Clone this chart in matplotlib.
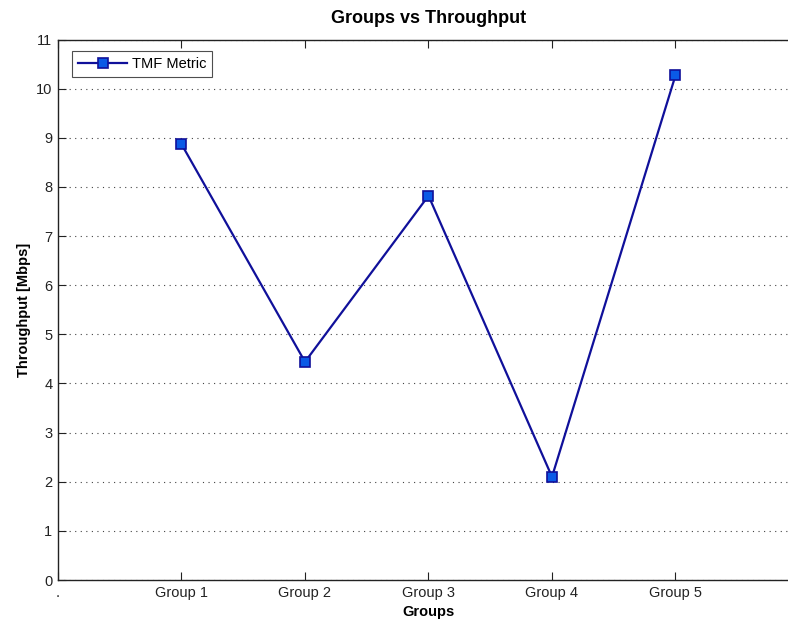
import matplotlib
matplotlib.use("Agg")
import matplotlib.pyplot as plt

plt.rcParams['font.family'] = ['Liberation Sans', 'DejaVu Sans']

categories = ['Group 1', 'Group 2', 'Group 3', 'Group 4', 'Group 5']
x_pos = [1, 2, 3, 4, 5]
throughput = [8.87, 4.44, 7.82, 2.10, 10.27]
xtick_labels = ['.'] + categories
yticks = list(range(0, 12))

fig = plt.figure(figsize=(7.88, 6.22), dpi=100)
ax = fig.add_axes([58/788, 1-580/622, 741/788, 540.5/622])

ax.plot(x_pos, throughput, '-s', color='#10109a', linewidth=1.6,
        markersize=7.5, markerfacecolor='#0a5ae6', markeredgecolor='#10109a',
        markeredgewidth=1.2, label='TMF Metric', zorder=3)

ax.set_xlim(0, 6)
ax.set_ylim(0, 11)
ax.set_xticks(range(0, 6))
ax.set_xticklabels(xtick_labels, fontsize=10.5)
ax.set_yticks(yticks)
ax.set_yticklabels([str(v) for v in yticks], fontsize=10.5)
ax.tick_params(direction='in', length=6, width=0.8, top=True, right=True,
               colors='#222222', labelcolor='#222222', pad=4)
ax.grid(axis='y', linestyle=(0, (1, 4)), color='#444444', linewidth=0.8)
for s in ax.spines.values():
    s.set_linewidth(1.0)
    s.set_color('#222222')

ax.set_title('Groups vs Throughput', fontsize=13, fontweight='bold', pad=12)
ax.set_xlabel('Groups', fontsize=10.5, fontweight='bold', labelpad=4)
ax.set_ylabel('Throughput [Mbps]', fontsize=10.5, fontweight='bold', labelpad=4)

leg = ax.legend(loc='upper left', bbox_to_anchor=(0.019, 0.978), fontsize=10.5,
                frameon=True, fancybox=False, edgecolor='#222222',
                borderpad=0.4, handlelength=3.4, handletextpad=0.3,
                borderaxespad=0)
leg.get_frame().set_linewidth(0.8)

fig.savefig('out.png', dpi=100)
